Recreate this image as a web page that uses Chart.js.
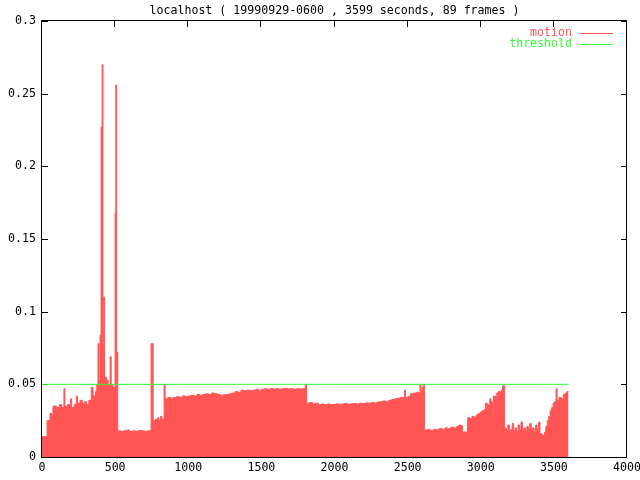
<!DOCTYPE html>
<html>
<head>
<meta charset="utf-8">
<script src="https://cdn.jsdelivr.net/npm/chart.js@4"></script>
<style>
  html, body { margin: 0; padding: 0; background: #fff; }
  #wrap { width: 640px; height: 480px; }
</style>
</head>
<body>
<div id="wrap"><canvas id="motionChart" width="640" height="480"></canvas></div>
<script>
const titleText = "localhost ( 19990929-0600 , 3599 seconds, 89 frames )";

// seconds since start (left edge of each step)
const times = [
  0, 35, 55, 68, 75, 100, 120, 135, 150, 157, 175, 196, 203, 220, 235, 242,
  260, 275, 290, 305, 320, 337, 349, 365, 375, 383, 390, 397, 404, 411, 417,
  422, 428, 440, 452, 466, 473, 485, 500, 505, 511,
  518, 540, 560, 580, 600, 620, 640, 660, 680, 700, 720, 746,
  760, 775, 790, 800, 810, 820, 835, 842,
  860, 880, 900, 920, 940, 960, 980, 1000, 1020, 1040, 1060, 1080, 1100,
  1120, 1140, 1160, 1180, 1200, 1220, 1240, 1260, 1280, 1300, 1320, 1340,
  1360, 1380, 1400, 1420, 1440, 1460, 1480, 1500, 1520, 1540, 1560, 1580,
  1600, 1620, 1640, 1660, 1680, 1700, 1720, 1740, 1760, 1780, 1800,
  1810, 1830, 1850, 1870, 1890, 1910, 1930, 1950, 1970, 1990, 2010, 2030,
  2050, 2070, 2090, 2110, 2130, 2150, 2170, 2190, 2210, 2230, 2250, 2270,
  2290, 2310, 2330, 2350, 2370, 2390, 2410, 2430, 2450, 2470, 2478, 2485,
  2500, 2520, 2540, 2560, 2575, 2585, 2592, 2600, 2607,
  2615, 2635, 2655, 2675, 2695, 2715, 2735, 2755, 2775, 2795, 2815, 2835,
  2850, 2862, 2875,
  2910, 2925, 2940, 2955, 2970, 2985, 2998, 3010, 3019, 3026, 3033, 3045,
  3053, 3062, 3070, 3081, 3088, 3100, 3110, 3120, 3132, 3140, 3149,
  3163, 3175, 3185, 3195, 3205, 3215, 3225, 3235, 3245, 3255, 3265, 3275,
  3285, 3295, 3305, 3315, 3325, 3335, 3345, 3355, 3365, 3375, 3385, 3395,
  3405, 3420, 3435, 3445, 3455, 3465, 3475, 3485, 3495, 3505, 3515, 3522,
  3535, 3550, 3565, 3580, 3590, 3600
];

const motion = [
  0.014, 0.025, 0.030, 0.028, 0.035, 0.034, 0.036, 0.034, 0.047, 0.035, 0.036, 0.040, 0.034, 0.036, 0.042, 0.037,
  0.039, 0.037, 0.038, 0.036, 0.039, 0.048, 0.042, 0.045, 0.050, 0.078, 0.053, 0.084, 0.227, 0.270, 0.054,
  0.110, 0.055, 0.053, 0.050, 0.069, 0.050, 0.048, 0.168, 0.256, 0.072,
  0.018, 0.0175, 0.018, 0.0185, 0.0175, 0.018, 0.0178, 0.0182, 0.018, 0.0176, 0.018, 0.078,
  0.025, 0.026, 0.027, 0.025, 0.028, 0.026, 0.050, 0.040,
  0.041, 0.0405, 0.041, 0.0415, 0.041, 0.042, 0.0415, 0.042, 0.0425, 0.042, 0.043, 0.0425, 0.043,
  0.0435, 0.043, 0.044, 0.0435, 0.043, 0.0425, 0.0428, 0.043, 0.0435, 0.044, 0.045, 0.0445,
  0.046, 0.0455, 0.046, 0.0455, 0.046, 0.0465, 0.046, 0.0465, 0.047, 0.0465, 0.047, 0.0468,
  0.047, 0.0465, 0.047, 0.0472, 0.0468, 0.047, 0.0465, 0.047, 0.0468, 0.047, 0.050,
  0.037, 0.0375, 0.0365, 0.037, 0.036, 0.0365, 0.036, 0.0365, 0.036, 0.0362, 0.0365, 0.036,
  0.0365, 0.0368, 0.0362, 0.0366, 0.0368, 0.0365, 0.037, 0.0368, 0.0372, 0.037, 0.0375, 0.0372,
  0.0378, 0.038, 0.0385, 0.038, 0.039, 0.0395, 0.040, 0.0405, 0.041, 0.041, 0.046, 0.041,
  0.0415, 0.0435, 0.044, 0.0445, 0.044, 0.050, 0.046, 0.048, 0.050,
  0.0185, 0.019, 0.0182, 0.019, 0.0188, 0.0195, 0.019, 0.020, 0.0195, 0.0205, 0.020, 0.021,
  0.022, 0.0215, 0.0172,
  0.027, 0.0265, 0.028, 0.0275, 0.029, 0.030, 0.031, 0.032, 0.024, 0.033, 0.037, 0.034,
  0.036, 0.040, 0.038, 0.028, 0.042, 0.0415, 0.044, 0.045, 0.0445, 0.046, 0.049,
  0.020, 0.018, 0.022, 0.017, 0.019, 0.023, 0.018, 0.020, 0.017, 0.022, 0.019, 0.024,
  0.018, 0.020, 0.0175, 0.021, 0.019, 0.023, 0.018, 0.020, 0.0165, 0.022, 0.019, 0.024,
  0.016, 0.015, 0.017, 0.021, 0.025, 0.028, 0.032, 0.034, 0.037, 0.038, 0.047, 0.039,
  0.041, 0.040, 0.043, 0.044, 0.045, 0.045
];

const thresholdTimes = [0, 3600];
const thresholdValues = [0.05, 0.05];

const xTicks = [0, 500, 1000, 1500, 2000, 2500, 3000, 3500, 4000];
const yTicks = [0, 0.05, 0.1, 0.15, 0.2, 0.25, 0.3];

const motionColor = "#ff5555";
const thresholdColor = "#33ff33";
const fontFamily = "'DejaVu Sans Mono', 'Liberation Mono', monospace";
const fontSize = 11.6;

// gnuplot-like frame: border box and inward ticks, drawn under the data
const framePlugin = {
  id: "frame",
  beforeDatasetsDraw(chart) {
    const ctx = chart.ctx;
    const area = chart.chartArea;
    const xs = chart.scales.x;
    const ys = chart.scales.y;
    const len = 6;
    ctx.save();
    ctx.strokeStyle = "#000";
    ctx.lineWidth = 1;
    ctx.beginPath();
    xTicks.forEach((v) => {
      const px = Math.round(xs.getPixelForValue(v)) - 0.5;
      ctx.moveTo(px, area.top);
      ctx.lineTo(px, area.top + len);
      ctx.moveTo(px, area.bottom);
      ctx.lineTo(px, area.bottom - len);
    });
    yTicks.forEach((v) => {
      const py = Math.round(ys.getPixelForValue(v)) + 0.5;
      ctx.moveTo(area.left, py);
      ctx.lineTo(area.left + len, py);
      ctx.moveTo(area.right, py);
      ctx.lineTo(area.right - len, py);
    });
    ctx.stroke();
    ctx.strokeRect(
      Math.round(area.left) - 0.5,
      Math.round(area.top) - 0.5,
      Math.round(area.right - area.left),
      Math.round(area.bottom - area.top) + 1
    );
    ctx.restore();
  },
  afterDraw(chart) {
    const ctx = chart.ctx;
    const area = chart.chartArea;
    ctx.save();
    ctx.font = fontSize + "px " + fontFamily;
    ctx.textBaseline = "middle";
    ctx.textAlign = "center";
    ctx.fillStyle = "#000";
    ctx.fillText(titleText, (area.left + area.right) / 2, 11);

    const entries = [
      { label: "motion", color: motionColor, y: 32.5 },
      { label: "threshold", color: thresholdColor, y: 43.5 },
    ];
    ctx.textAlign = "right";
    entries.forEach((e) => {
      ctx.fillStyle = e.color;
      ctx.fillText(e.label, 572, e.y);
      ctx.strokeStyle = e.color;
      ctx.beginPath();
      ctx.moveTo(580, Math.round(e.y) + 0.5);
      ctx.lineTo(613, Math.round(e.y) + 0.5);
      ctx.stroke();
    });
    ctx.restore();
  },
};

function createChart() {
  const motionPoints = times.map((t, i) => ({ x: t, y: motion[i] }));
  const thresholdPoints = thresholdTimes.map((t, i) => ({ x: t, y: thresholdValues[i] }));

  const config = {
    type: "line",
    data: {
      datasets: [
        {
          label: "threshold",
          data: thresholdPoints,
          borderColor: thresholdColor,
          borderWidth: 1,
          pointRadius: 0,
          fill: false,
        },
        {
          label: "motion",
          data: motionPoints,
          borderColor: motionColor,
          backgroundColor: motionColor,
          borderWidth: 1,
          pointRadius: 0,
          stepped: "before",
          fill: "origin",
        },
      ],
    },
    options: {
      responsive: false,
      animation: false,
      layout: {
        padding: { top: 21, right: 13, bottom: 0, left: 0 },
      },
      plugins: {
        legend: { display: false },
        tooltip: { enabled: false },
        title: { display: false },
      },
      scales: {
        x: {
          type: "linear",
          min: 0,
          max: 4000,
          afterFit: (s) => {
            s.height = 23;
            s.paddingLeft = 0;
            s.paddingRight = 0;
          },
          afterBuildTicks: (s) => {
            s.ticks = xTicks.map((v) => ({ value: v }));
          },
          grid: { display: false, drawTicks: false },
          border: { display: false },
          ticks: {
            autoSkip: false,
            maxRotation: 0,
            padding: 4,
            color: "#000",
            font: { family: fontFamily, size: fontSize },
            callback: (v) => String(v),
          },
        },
        y: {
          min: 0,
          max: 0.3,
          afterFit: (s) => {
            s.width = 42;
            s.paddingTop = 0;
            s.paddingBottom = 0;
          },
          afterBuildTicks: (s) => {
            s.ticks = yTicks.map((v) => ({ value: v }));
          },
          grid: { display: false, drawTicks: false },
          border: { display: false },
          ticks: {
            padding: 6,
            color: "#000",
            font: { family: fontFamily, size: fontSize },
            callback: (v) => String(parseFloat(v.toFixed(2))),
          },
        },
      },
    },
    plugins: [framePlugin],
  };

  new Chart(document.getElementById("motionChart"), config);
}

createChart();
</script>
</body>
</html>
